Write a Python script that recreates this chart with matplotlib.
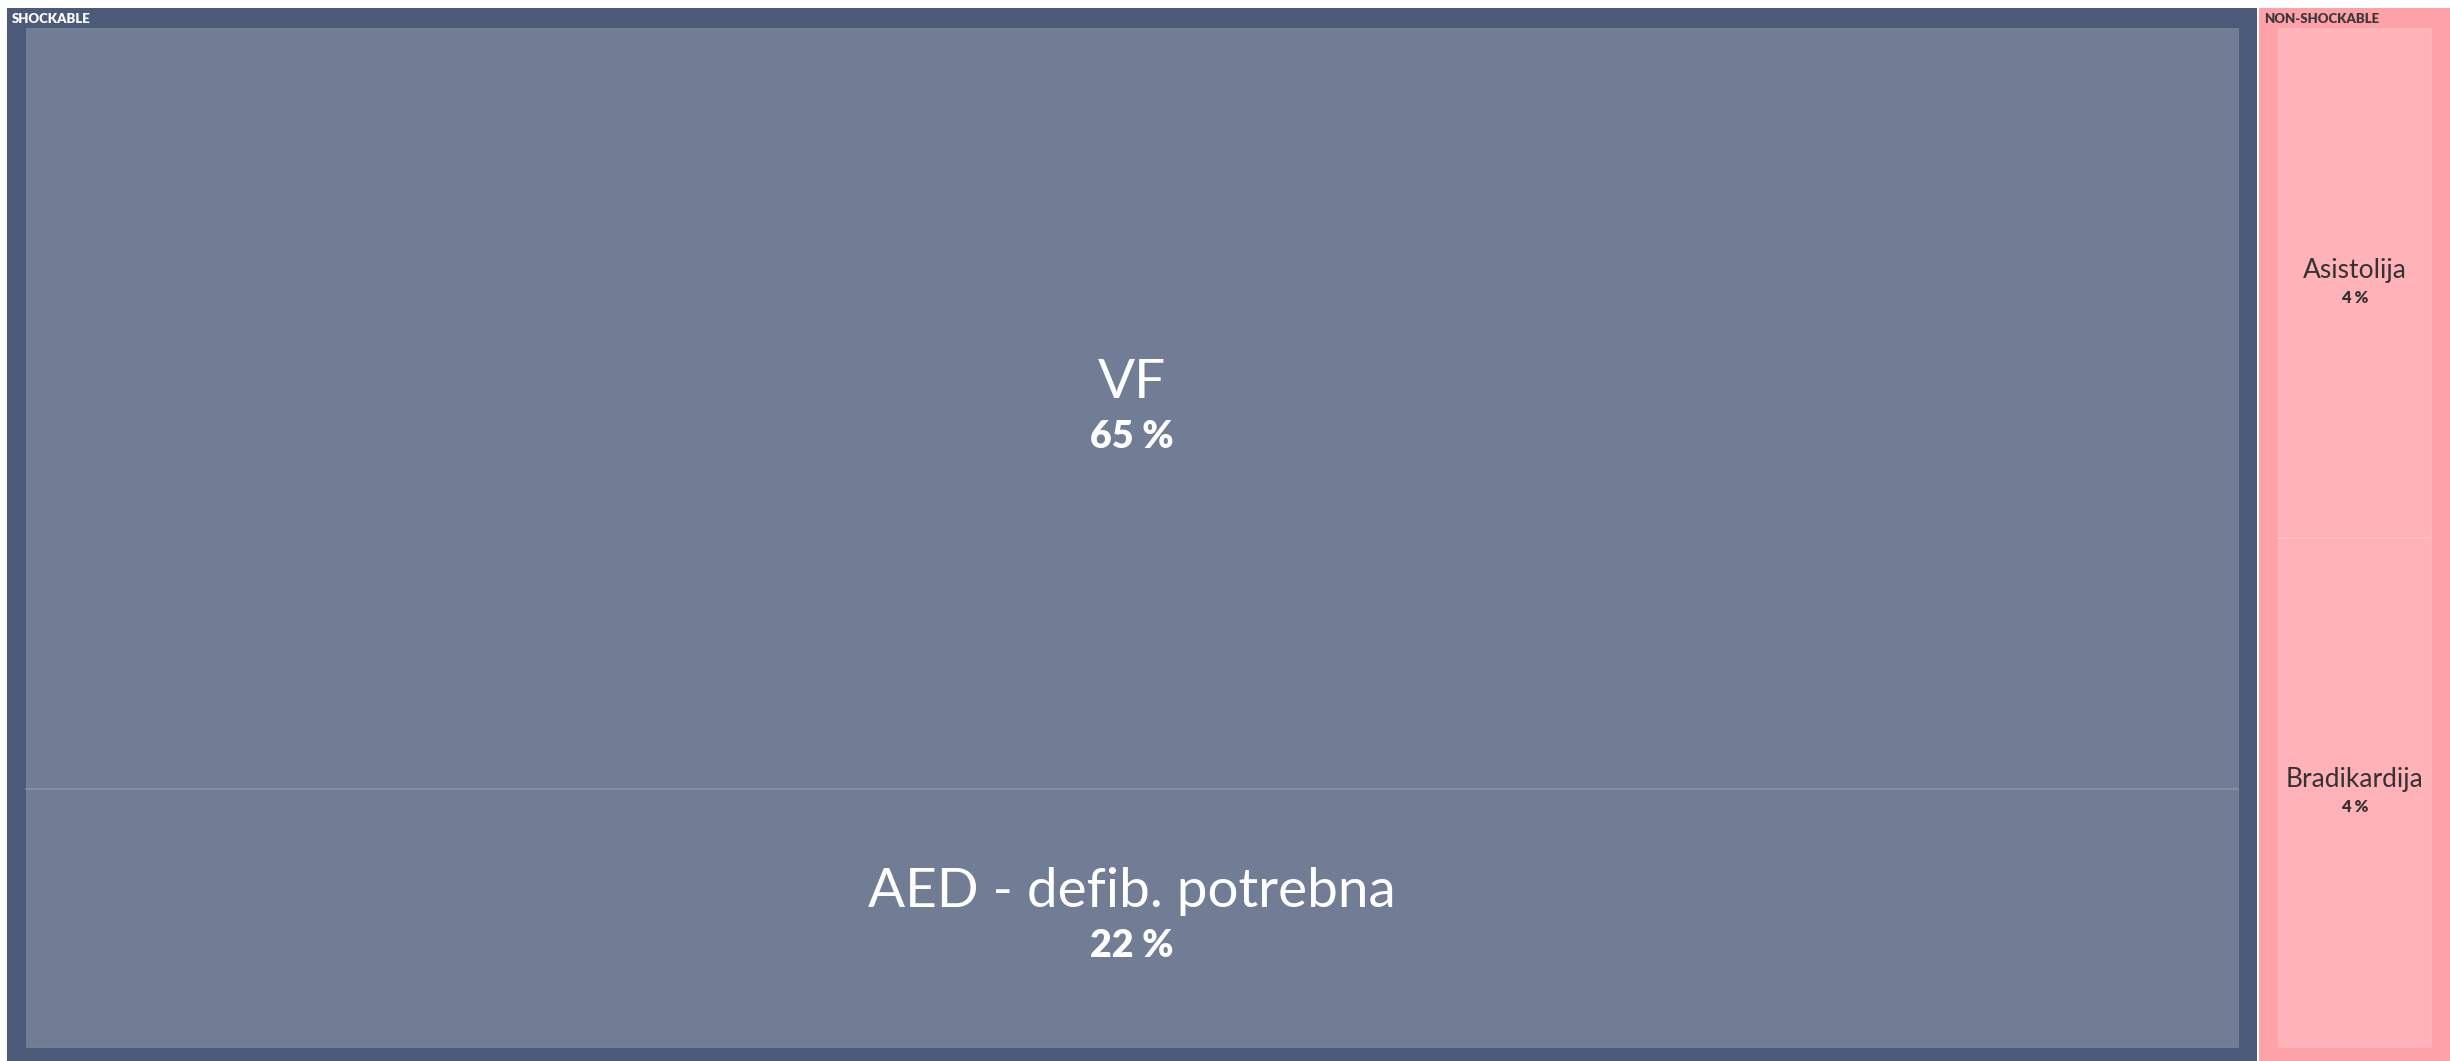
import matplotlib.pyplot as plt
import matplotlib.patches as mpatches

# treemap data: groups and their children (share of all cases, %)
groups = ["SHOCKABLE", "NON-SHOCKABLE"]
shockable_labels = ["VF", "AED - defib. potrebna"]
shockable_values = [65.2, 22.1]
nonshock_labels = ["Asistolija", "Bradikardija"]
nonshock_values = [3.7, 3.7]

W, H = 2450, 1061
group_fill = ["#4b5a78", "#ffa1a9"]
cell_fill = ["#717d94", "#ffb3b8"]
cell_edge = ["#8692a8", "#ffc3c7"]
head_color = ["white", "#3a3a3a"]
text_color = ["white", "#333333"]
big = [True, False]


def main():
	plt.rcParams['font.family'] = ['Lato', 'DejaVu Sans']
	fig = plt.figure(figsize=(W / 100, H / 100), dpi=100)
	ax = fig.add_axes([0, 0, 1, 1])
	ax.set_xlim(0, W)
	ax.set_ylim(H, 0)
	ax.axis('off')

	children = [(shockable_labels, shockable_values), (nonshock_labels, nonshock_values)]
	sums = [sum(v) for _, v in children]
	total = sum(sums)

	x_left, y_top, gap = 7, 8, 2
	avail = W - x_left - gap * (len(groups) - 1)
	head, pad_side, pad_bot = 20, 19, 14

	x = x_left
	for g, name in enumerate(groups):
		gw = avail * sums[g] / total
		ax.add_patch(mpatches.Rectangle((x, y_top), gw, H - y_top, facecolor=group_fill[g],
			edgecolor='none'))
		ax.text(x + 5, y_top + head / 2 + 1, name, color=head_color[g], fontsize=9.5,
			fontweight='heavy', va='center', ha='left')

		ix = x + pad_side
		iw = gw - 2 * pad_side
		iy = y_top + head
		ih = H - pad_bot - iy
		labels, vals = children[g]
		ax.add_patch(mpatches.Rectangle((ix, iy), iw, ih, facecolor=cell_fill[g],
			edgecolor=cell_edge[g], linewidth=0.4))
		y = iy
		for k, (lab, v) in enumerate(zip(labels, vals)):
			ch = ih * v / sums[g]
			if k > 0:
				ax.plot([ix, ix + iw], [y, y], color=cell_edge[g], linewidth=1.2)
			cx, cy = ix + iw / 2, y + ch / 2
			if big[g]:
				fs1, fs2, off1, off2 = 39.5, 27, -11, 39
			else:
				fs1, fs2, off1, off2 = 19, 12, -5, 20
			ax.annotate(lab, (cx, cy), xytext=(0, -off1 * 0.72), textcoords='offset points',
				ha='center', va='baseline', fontsize=fs1, color=text_color[g])
			ax.annotate("%d %%" % round(v), (cx, cy), xytext=(0, -off2 * 0.72),
				textcoords='offset points', ha='center', va='baseline', fontsize=fs2,
				fontweight='heavy', color=text_color[g])
			y += ch
		x += gw + gap

	fig.savefig("out.png", dpi=100, facecolor='white')


if __name__ == "__main__":
	main()
